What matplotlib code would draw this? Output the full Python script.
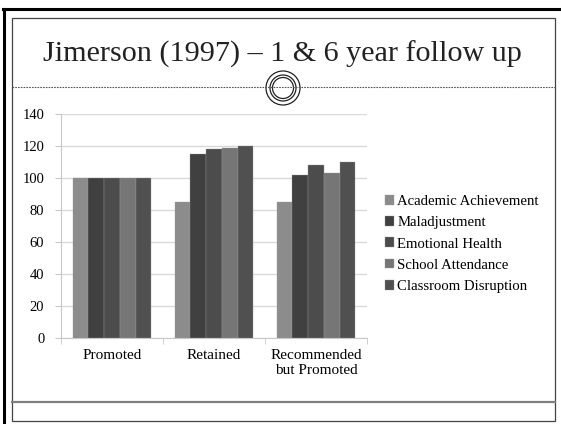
import matplotlib
matplotlib.use("Agg")
import matplotlib.pyplot as plt
from matplotlib.patches import Rectangle, Circle
from matplotlib.lines import Line2D
import numpy as np

W, H = 561, 424

categories = ["Promoted", "Retained", "Recommended\nbut Promoted"]
series_names = ["Academic Achievement", "Maladjustment", "Emotional Health",
                "School Attendance", "Classroom Disruption"]
academic = [100, 85, 85]
maladjust = [100, 115, 102]
emotional = [100, 118, 108]
attendance = [100, 119, 103]
disruption = [100, 120, 110]
yticks = [0, 20, 40, 60, 80, 100, 120, 140]

values = [academic, maladjust, emotional, attendance, disruption]
colors = ["#8c8c8c", "#404040", "#4c4c4c", "#767676", "#505050"]

plt.rcParams["font.family"] = "Liberation Serif"

fig = plt.figure(figsize=(W / 100, H / 100), dpi=100)


def fx(x):
    return x / W


def fy(y):
    return 1 - y / H


# slide frame
fig.add_artist(Line2D([fx(4), fx(4)], [fy(9), fy(430)], color="black", lw=2.2))
fig.add_artist(Line2D([fx(3), fx(565)], [fy(9), fy(9)], color="black", lw=2.2))
fig.add_artist(Rectangle((fx(12), fy(421)), fx(555) - fx(12), fy(18) - fy(421),
                         fill=False, ec="#444444", lw=0.9))
fig.add_artist(Line2D([fx(12), fx(555)], [fy(402), fy(402)], color="#808080", lw=1.6))
fig.add_artist(Line2D([fx(12), fx(555)], [fy(87), fy(87)], color="#555555", lw=0.8,
                      ls=(0, (1.5, 1))))

# title
fig.text(fx(282), fy(54), "Jimerson (1997) \u2013 1 & 6 year follow up",
         ha="center", va="center", fontsize=21.7, color="#222222")

# circle ornament
for r, fc in [(17, "white"), (13, "none"), (10.5, "none")]:
    c = Circle((283, H - 88), r, transform=None, fc=fc, ec="#222222", lw=0.9)
    fig.add_artist(c)

# chart
ax = fig.add_axes([fx(61), fy(338), fx(367) - fx(61), fy(114) - fy(338)])
x = np.arange(len(categories))
bw = 1 / 6.5
for i, (vals, col, name) in enumerate(zip(values, colors, series_names)):
    ax.bar(x + (i - 2) * bw, vals, bw, color=col, label=name, zorder=3,
           edgecolor="#9a9a9a", linewidth=0.25)

ax.set_xlim(-0.5, len(categories) - 0.5)
ax.set_ylim(0, 140)
ax.set_yticks(yticks)
ax.set_yticklabels([str(v) for v in yticks], fontsize=10.5)
ax.set_xticks(x)
ax.set_xticklabels(categories, fontsize=11, linespacing=1.15)
ax.set_xticks(np.arange(len(categories) + 1) - 0.5, minor=True)
ax.tick_params(axis="x", which="major", length=0, pad=8)
ax.tick_params(axis="x", which="minor", length=4, color="#c8c8c8")
ax.tick_params(axis="y", length=4, color="#c8c8c8", pad=8)
ax.grid(axis="y", color="#d9d9d9", lw=1, zorder=0)
for s in ["top", "right"]:
    ax.spines[s].set_visible(False)
for s in ["left", "bottom"]:
    ax.spines[s].set_color("#c8c8c8")

leg = ax.legend(loc="center left", bbox_to_anchor=((379 - 61) / (367 - 61), (338 - 244) / (338 - 114)),
                frameon=False, fontsize=10.6, handlelength=0.65, handleheight=0.65,
                handletextpad=0.2, labelspacing=0.55, borderaxespad=0)

fig.savefig("out.png", dpi=100)
